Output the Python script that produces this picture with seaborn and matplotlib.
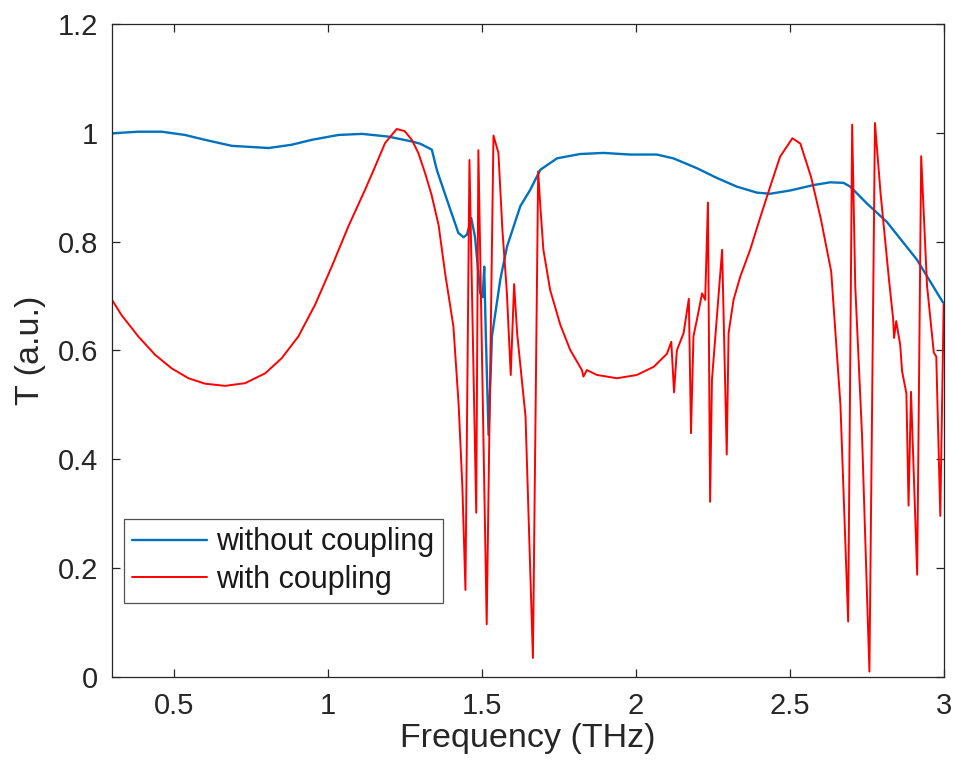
import numpy as np
import matplotlib
matplotlib.use("Agg")
from matplotlib import pyplot as plt
import seaborn as sns

# transmission without coupling (blue)
freq_without = [0.300, 0.385, 0.461, 0.537, 0.602, 0.689, 0.808, 0.883, 0.948, 1.035,
                1.111, 1.197, 1.273, 1.300, 1.338, 1.354, 1.387, 1.424, 1.441, 1.452,
                1.466, 1.478, 1.495, 1.503, 1.508, 1.513, 1.522, 1.533, 1.560, 1.582,
                1.625, 1.657, 1.690, 1.744, 1.819, 1.895, 1.982, 2.068, 2.122, 2.198,
                2.263, 2.328, 2.393, 2.436, 2.501, 2.577, 2.631, 2.674, 2.696, 2.750,
                2.815, 2.912, 2.997]
t_without = [0.999, 1.002, 1.002, 0.996, 0.987, 0.976, 0.972, 0.978, 0.987, 0.996,
             0.998, 0.993, 0.984, 0.980, 0.969, 0.932, 0.877, 0.816, 0.808, 0.813,
             0.843, 0.809, 0.705, 0.698, 0.754, 0.632, 0.445, 0.626, 0.730, 0.791,
             0.865, 0.895, 0.932, 0.953, 0.961, 0.963, 0.960, 0.960, 0.953, 0.935,
             0.917, 0.901, 0.890, 0.888, 0.894, 0.904, 0.909, 0.908, 0.901, 0.870,
             0.836, 0.767, 0.688]

# transmission with coupling (red)
freq_with = [0.300, 0.331, 0.385, 0.440, 0.494, 0.548, 0.602, 0.667, 0.732, 0.797,
             0.851, 0.905, 0.959, 1.013, 1.067, 1.121, 1.154, 1.186, 1.224, 1.250,
             1.273, 1.294, 1.316, 1.337, 1.360, 1.381, 1.408, 1.425, 1.437, 1.447,
             1.460, 1.482, 1.489, 1.516, 1.538, 1.554, 1.567, 1.581, 1.594, 1.605,
             1.615, 1.642, 1.666, 1.683, 1.690, 1.700, 1.722, 1.755, 1.787, 1.825,
             1.830, 1.841, 1.874, 1.939, 2.003, 2.058, 2.101, 2.115, 2.124, 2.133,
             2.155, 2.172, 2.179, 2.187, 2.198, 2.215, 2.225, 2.234, 2.241, 2.247,
             2.280, 2.295, 2.301, 2.317, 2.339, 2.371, 2.404, 2.436, 2.468, 2.508,
             2.534, 2.569, 2.601, 2.634, 2.664, 2.689, 2.702, 2.712, 2.734, 2.758,
             2.776, 2.794, 2.821, 2.835, 2.838, 2.845, 2.858, 2.864, 2.878, 2.885,
             2.893, 2.913, 2.926, 2.945, 2.967, 2.975, 2.988, 2.999]
t_with = [0.693, 0.665, 0.626, 0.592, 0.567, 0.549, 0.539, 0.535, 0.540, 0.558,
          0.586, 0.626, 0.684, 0.754, 0.828, 0.895, 0.938, 0.981, 1.007, 1.003,
          0.987, 0.963, 0.926, 0.886, 0.830, 0.742, 0.644, 0.500, 0.350, 0.160,
          0.950, 0.302, 0.968, 0.097, 0.995, 0.963, 0.821, 0.711, 0.555, 0.722,
          0.630, 0.479, 0.035, 0.929, 0.865, 0.785, 0.711, 0.647, 0.601, 0.564,
          0.552, 0.564, 0.555, 0.549, 0.555, 0.570, 0.594, 0.616, 0.523, 0.600,
          0.632, 0.695, 0.448, 0.626, 0.656, 0.705, 0.693, 0.872, 0.322, 0.546,
          0.785, 0.409, 0.632, 0.693, 0.736, 0.785, 0.845, 0.901, 0.956, 0.990,
          0.980, 0.918, 0.840, 0.745, 0.500, 0.102, 1.015, 0.719, 0.445, 0.010,
          1.018, 0.890, 0.733, 0.658, 0.623, 0.654, 0.610, 0.562, 0.521, 0.315,
          0.524, 0.188, 0.957, 0.719, 0.596, 0.589, 0.296, 0.685]

x_ticks = [0.5, 1, 1.5, 2, 2.5, 3]
y_ticks = [0, 0.2, 0.4, 0.6, 0.8, 1, 1.2]

sns.set_style("ticks")
plt.rcParams['font.family'] = ['Liberation Sans', 'DejaVu Sans']
dark = '#262626'

fig = plt.figure(figsize=(9.54, 7.72), dpi=100)
ax = fig.add_axes([0.1174, 0.123, 0.8721, 0.846])

sns.lineplot(x=freq_without, y=t_without, ax=ax, color='#0072BD', lw=1.7,
             label='without coupling', estimator=None, sort=False)
sns.lineplot(x=freq_with, y=t_with, ax=ax, color='#FF0000', lw=1.4,
             label='with coupling', estimator=None, sort=False)

ax.set_xlim(0.3, 3)
ax.set_ylim(0, 1.2)
ax.set_xticks(x_ticks)
ax.set_yticks(y_ticks)
ax.set_xticklabels([f'{v:g}' for v in x_ticks])
ax.set_yticklabels([f'{v:g}' for v in y_ticks])
ax.tick_params(direction='in', length=6, width=0.9, colors=dark, labelsize=21,
               top=True, right=True)
ax.tick_params(axis='x', pad=11)
ax.tick_params(axis='y', pad=10)
for s in ax.spines.values():
    s.set_visible(True)
    s.set_color(dark)
    s.set_linewidth(0.9)

ax.set_xlabel('Frequency (THz)', fontsize=24.5, color=dark)
ax.set_ylabel('T (a.u.)', fontsize=24.5, color=dark)
ax.xaxis.set_label_coords(0.5, -0.07)
ax.yaxis.set_label_coords(-0.079, 0.5)

leg = ax.legend(loc='lower left', bbox_to_anchor=(0.0144, 0.113), fontsize=22,
                frameon=True, fancybox=False, borderpad=0.27, labelspacing=0.25,
                handlelength=2.45, handletextpad=0.3, borderaxespad=0)
leg.get_frame().set_edgecolor(dark)
leg.get_frame().set_linewidth(0.9)
for t in leg.get_texts():
    t.set_color('#1a1a1a')

fig.savefig('out.png', dpi=100)
